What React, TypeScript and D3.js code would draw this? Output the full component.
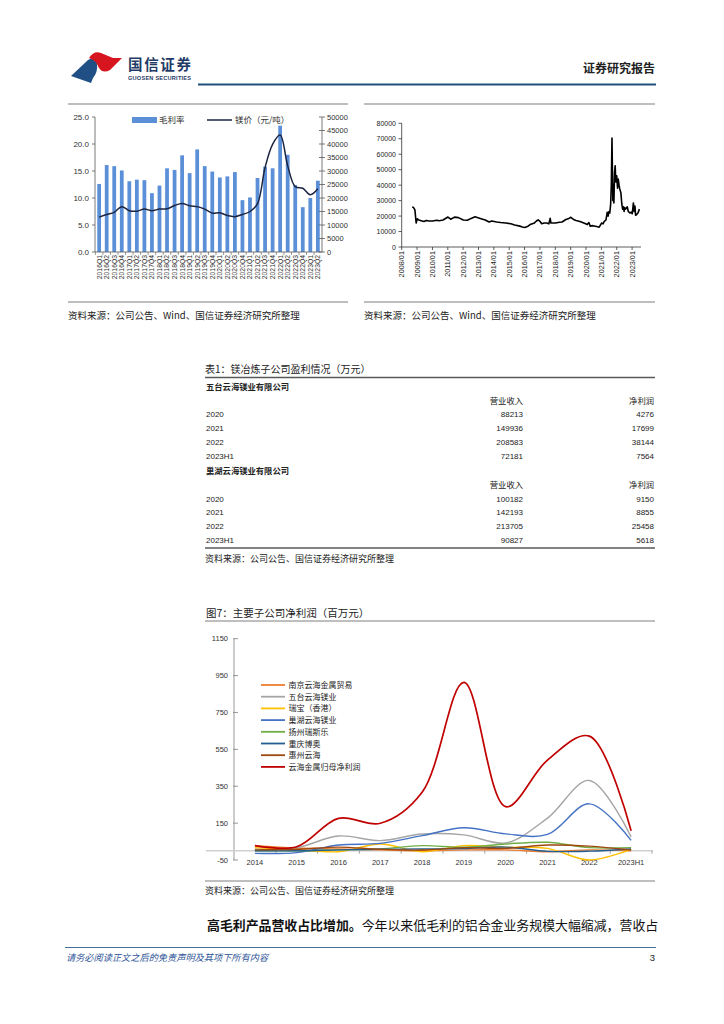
import * as d3 from 'd3';

const FONT = '"Liberation Sans", "Noto Sans CJK SC", sans-serif';
const CJK = '"Noto Sans CJK SC", "Liberation Sans", sans-serif';

// chart 1: quarterly gross margin vs magnesium price
const quarters = [
  '2016Q1', '2016Q2', '2016Q3', '2016Q4', '2017Q1', '2017Q2', '2017Q3', '2017Q4',
  '2018Q1', '2018Q2', '2018Q3', '2018Q4', '2019Q1', '2019Q2', '2019Q3', '2019Q4',
  '2020Q1', '2020Q2', '2020Q3', '2020Q4', '2021Q1', '2021Q2', '2021Q3', '2021Q4',
  '2022Q1', '2022Q2', '2022Q3', '2022Q4', '2023Q1', '2023Q2',
];
const grossMargin = [
  12.6, 16.1, 15.9, 15.1, 13.1, 13.4, 13.3, 10.9, 12.3, 15.5, 15.2, 17.9, 14.6, 19.0, 15.9,
  14.9, 13.8, 14.0, 14.8, 9.6, 10.1, 13.7, 15.8, 15.5, 23.4, 18.0, 12.4, 8.3, 10.0, 13.2,
];
const mgPriceQ = [
  12900, 13900, 14700, 16800, 15300, 15100, 15900, 15300, 15900, 16000, 17200, 18000, 17100,
  16800, 15900, 14400, 14500, 13500, 13100, 13900, 15000, 17900, 31300, 39900, 43300, 31900,
  24200, 23600, 21200, 23400,
];
const leftTicks = [0, 5, 10, 15, 20, 25];
const rightTicks = [0, 5000, 10000, 15000, 20000, 25000, 30000, 35000, 40000, 45000, 50000];

// chart 2: magnesium spot price
const mgDates = [
  '2008-09-10', '2008-10-10', '2008-11-10', '2008-12-10', '2009-01-05', '2009-02-10', '2009-04-10',
  '2009-06-10', '2009-08-10', '2009-10-10', '2010-01-05', '2010-04-10', '2010-06-10', '2010-09-10',
  '2011-01-05', '2011-03-10', '2011-06-10', '2011-09-10', '2012-01-05', '2012-04-10', '2012-07-10',
  '2012-10-10', '2013-01-05', '2013-04-10', '2013-06-10', '2013-09-10', '2013-11-10', '2014-03-10',
  '2014-06-10', '2014-10-10', '2015-02-10', '2015-05-10', '2015-09-10', '2015-11-10', '2016-01-05',
  '2016-03-10', '2016-05-10', '2016-08-10', '2016-10-10', '2016-11-20', '2017-01-05', '2017-02-10',
  '2017-04-10', '2017-06-10', '2017-08-01', '2017-09-01', '2017-09-20', '2018-01-05', '2018-04-10',
  '2018-06-10', '2018-09-10', '2018-11-20', '2019-01-05', '2019-03-10', '2019-05-10', '2019-08-10',
  '2019-11-10', '2020-02-01', '2020-03-10', '2020-04-10', '2020-06-10', '2020-09-10', '2020-11-10',
  '2021-01-05', '2021-02-10', '2021-03-10', '2021-04-20', '2021-05-20', '2021-06-10', '2021-07-01',
  '2021-07-20', '2021-08-10', '2021-08-25', '2021-09-10', '2021-09-20', '2021-10-01', '2021-10-15',
  '2021-10-25', '2021-11-10', '2021-11-25', '2021-12-10', '2022-01-01', '2022-01-20', '2022-02-05',
  '2022-02-25', '2022-03-10', '2022-04-10', '2022-05-01', '2022-05-20', '2022-06-10', '2022-06-25',
  '2022-07-10', '2022-08-01', '2022-09-10', '2022-10-01', '2022-11-10', '2022-12-10', '2023-01-05',
  '2023-02-01', '2023-02-20', '2023-03-10', '2023-03-25', '2023-04-20', '2023-05-20', '2023-06-25',
  '2023-07-20',
];
const mgDaily = [
  26000, 25500, 24000, 15500, 18200, 17500, 17000, 16500, 17200, 16800, 16800, 17300, 17000,
  17500, 19400, 18000, 19300, 19000, 17500, 17300, 18500, 19500, 18800, 18000, 17500, 16200,
  16800, 16200, 15800, 15500, 15000, 14200, 13500, 13000, 12600, 13200, 14500, 15300, 16800,
  17600, 16500, 15000, 15500, 15500, 15000, 18500, 15500, 15500, 16000, 16200, 17800, 18500,
  19200, 17800, 17200, 16500, 15500, 14500, 15800, 13500, 13800, 13200, 12800, 15500, 15000,
  16500, 17500, 22500, 20000, 23000, 22000, 28000, 40000, 70500, 50000, 30000, 40000, 28500,
  48000, 52500, 42000, 46000, 38000, 44000, 40000, 38000, 35000, 28000, 24500, 26000, 23000,
  25500, 24500, 26000, 23000, 22000, 22500, 21500, 28500, 23000, 26500, 20500, 21000, 22000,
  24500,
];
const mgTicks = [0, 10000, 20000, 30000, 40000, 50000, 60000, 70000, 80000];
const mgYears = d3.range(2008, 2024);

// table 1 (万元)
const wutaiRows: [string, number, number][] = [
  ['2020', 88213, 4276],
  ['2021', 149936, 17699],
  ['2022', 208583, 38144],
  ['2023H1', 72181, 7564],
];
const chaohuRows: [string, number, number][] = [
  ['2020', 100182, 9150],
  ['2021', 142193, 8855],
  ['2022', 213705, 25458],
  ['2023H1', 90827, 5618],
];

// chart 7: net profit of subsidiaries (百万元)
const years = ['2014', '2015', '2016', '2017', '2018', '2019', '2020', '2021', '2022', '2023H1'];
const nanjing = [28, 15, 10, 5, 0, 5, 5, -5, 5, 0];
const wutai = [10, 17, 80, 55, 91, 86, 42.8, 177, 381.4, 75.6];
const ruibao = [17, 5, -5, 37, -5, 28, 19, 13, -50, 8];
const chaohu = [-14, -10, 31, 40, 82, 125, 91.5, 88.6, 254.6, 56.2];
const yangzhou = [0, 0, 5, 10, 28, 19, 37, 46, 17, 17];
const chongqing = [0, 0, 5, 8, 10, 12, 20, -3, -2, 10];
const huizhou = [5, 8, 20, 8, 4, 17, 13, 31, 25, 4];
const yunhai = [28, 22, 176, 149, 317, 913, 239, 492, 622, 109];
const profitTicks = [-50, 150, 350, 550, 750, 950, 1150];

const profitSeries = [
  { name: '南京云海金属贸易', color: '#ed7d31', values: nanjing },
  { name: '五台云海镁业', color: '#a5a5a5', values: wutai },
  { name: '瑞宝（香港）', color: '#ffc000', values: ruibao },
  { name: '巢湖云海镁业', color: '#4472c4', values: chaohu },
  { name: '扬州瑞斯乐', color: '#70ad47', values: yangzhou },
  { name: '重庆博奥', color: '#255e91', values: chongqing },
  { name: '惠州云海', color: '#9e480e', values: huizhou },
  { name: '云海金属归母净利润', color: '#c00000', values: yunhai },
];

const source1 = '资料来源：公司公告、Wind、国信证券经济研究所整理';
const source2 = '资料来源：公司公告、国信证券经济研究所整理';

const GrossMarginChart = () => {
  const x = d3.scaleBand<string>().domain(quarters).range([95, 322]).paddingInner(0.5).paddingOuter(0.3);
  const yL = d3.scaleLinear().domain([0, 25]).range([252, 117]);
  const yR = d3.scaleLinear().domain([0, 50000]).range([252, 117]);
  const line = d3
    .line<number>()
    .x((_, i) => (x(quarters[i]) as number) + x.bandwidth() / 2)
    .y((d) => yR(d))
    .curve(d3.curveCatmullRom);
  const step = x.step();
  return (
    <g>
      <line x1={68} x2={348} y1={104} y2={104} stroke="#7f7f7f" strokeWidth={1.2} />
      {quarters.map((q, i) => (
        <rect key={q} x={x(q)} y={yL(grossMargin[i])} width={x.bandwidth()} height={252 - yL(grossMargin[i])} fill="#5b8fd8" />
      ))}
      <path d={line(mgPriceQ) as string} fill="none" stroke="#1c2541" strokeWidth={1.5} />
      {/* axes */}
      <line x1={95} x2={95} y1={117} y2={252} stroke="#595959" strokeWidth={0.8} />
      <line x1={322} x2={322} y1={117} y2={252} stroke="#595959" strokeWidth={0.8} />
      <line x1={95} x2={322} y1={252} y2={252} stroke="#595959" strokeWidth={0.8} />
      {leftTicks.map((t) => (
        <g key={t}>
          <line x1={92} x2={95} y1={yL(t)} y2={yL(t)} stroke="#595959" strokeWidth={0.8} />
          <text x={89} y={yL(t) + 2.8} textAnchor="end" fontSize={8} fill="#333" fontFamily={FONT}>
            {t.toFixed(1)}
          </text>
        </g>
      ))}
      {rightTicks.map((t) => (
        <g key={t}>
          <line x1={319} x2={325} y1={yR(t)} y2={yR(t)} stroke="#595959" strokeWidth={0.8} />
          <text x={327} y={yR(t) + 2.6} fontSize={7.5} fill="#333" fontFamily={FONT}>
            {t}
          </text>
        </g>
      ))}
      {quarters.map((q, i) => (
        <g key={q}>
          <line x1={95 + 0.3 * step + i * step - step * 0.25} x2={95 + 0.3 * step + i * step - step * 0.25} y1={252} y2={255} stroke="#595959" strokeWidth={0.6} />
          <text
            transform={`translate(${(x(q) as number) + x.bandwidth() / 2 + 2.4},255) rotate(-90)`}
            textAnchor="end"
            fontSize={6.8}
            fill="#333"
            fontFamily={FONT}
          >
            {q}
          </text>
        </g>
      ))}
      {/* legend */}
      <rect x={132} y={117} width={25} height={6} fill="#5b8fd8" />
      <text x={159} y={123} fontSize={8.5} fill="#333" fontFamily={CJK}>毛利率</text>
      <line x1={207} x2={232} y1={120} y2={120} stroke="#1c2541" strokeWidth={1.5} />
      <text x={235} y={123} fontSize={8.5} fill="#333" fontFamily={CJK}>镁价（元/吨）</text>
      <line x1={68} x2={348} y1={302} y2={302} stroke="#7f7f7f" strokeWidth={1.2} />
      <text x={68} y={319} fontSize={9.5} fill="#222" fontFamily={CJK}>{source1}</text>
    </g>
  );
};

const MgPriceChart = () => {
  const parse = d3.timeParse('%Y-%m-%d');
  const dates = mgDates.map((d) => parse(d) as Date);
  const x = d3.scaleTime().domain([new Date(2008, 0, 1), new Date(2023, 7, 1)]).range([401.7, 641]);
  const y = d3.scaleLinear().domain([0, 80000]).range([247, 123.3]);
  const line = d3
    .line<number>()
    .x((_, i) => x(dates[i]))
    .y((d) => y(d));
  return (
    <g>
      <line x1={364} x2={655} y1={104} y2={104} stroke="#7f7f7f" strokeWidth={1.2} />
      <line x1={401.7} x2={401.7} y1={123.3} y2={247} stroke="#333" strokeWidth={0.8} />
      <line x1={401.7} x2={641} y1={247} y2={247} stroke="#333" strokeWidth={0.8} />
      {mgTicks.map((t) => (
        <g key={t}>
          <line x1={398.5} x2={401.7} y1={y(t)} y2={y(t)} stroke="#333" strokeWidth={0.8} />
          <text x={396} y={y(t) + 2.5} textAnchor="end" fontSize={7} fill="#222" fontFamily={FONT}>
            {t}
          </text>
        </g>
      ))}
      {mgYears.map((yr) => {
        const px = x(new Date(yr, 0, 1));
        return (
          <g key={yr}>
            <line x1={px} x2={px} y1={247} y2={250} stroke="#333" strokeWidth={0.8} />
            <text transform={`translate(${px + 2.5},251) rotate(-90)`} textAnchor="end" fontSize={7.3} fill="#222" fontFamily={FONT}>
              {`${yr}/01`}
            </text>
          </g>
        );
      })}
      <path d={line(mgDaily) as string} fill="none" stroke="#000" strokeWidth={1.6} strokeLinejoin="round" />
      <line x1={364} x2={655} y1={302} y2={302} stroke="#7f7f7f" strokeWidth={1.2} />
      <text x={364} y={319} fontSize={9.5} fill="#222" fontFamily={CJK}>{source1}</text>
    </g>
  );
};

const ProfitTable = () => {
  const rowH = 13.8;
  const block = (name: string, rows: [string, number, number][], top: number) => (
    <g>
      <text x={206} y={top + 3} fontSize={8.3} fontWeight="bold" fill="#222" fontFamily={CJK}>{name}</text>
      <text x={523} y={top + rowH + 3.5} textAnchor="end" fontSize={8.3} fill="#222" fontFamily={CJK}>营业收入</text>
      <text x={654} y={top + rowH + 3.5} textAnchor="end" fontSize={8.3} fill="#222" fontFamily={CJK}>净利润</text>
      {rows.map((r, i) => {
        const yy = top + rowH * (i + 2) + 3;
        return (
          <g key={r[0]}>
            <text x={206} y={yy} fontSize={8} fill="#222" fontFamily={FONT}>{r[0]}</text>
            <text x={523} y={yy} textAnchor="end" fontSize={8} fill="#222" fontFamily={FONT}>{r[1]}</text>
            <text x={654} y={yy} textAnchor="end" fontSize={8} fill="#222" fontFamily={FONT}>{r[2]}</text>
          </g>
        );
      })}
    </g>
  );
  return (
    <g>
      <text x={205} y={373} fontSize={10} fill="#222" fontFamily={CJK}>表1：镁冶炼子公司盈利情况（万元）</text>
      <line x1={205} x2={655} y1={377.5} y2={377.5} stroke="#595959" strokeWidth={1.3} />
      {block('五台云海镁业有限公司', wutaiRows, 386.5)}
      {block('巢湖云海镁业有限公司', chaohuRows, 471)}
      <line x1={205} x2={655} y1={548} y2={548} stroke="#595959" strokeWidth={1.3} />
      <text x={205} y={561.5} fontSize={9} fill="#222" fontFamily={CJK}>{source2}</text>
    </g>
  );
};

const SubsidiaryChart = () => {
  const x = d3.scaleBand<string>().domain(years).range([234, 652]);
  const y = d3.scaleLinear().domain([-50, 1150]).range([860, 638.7]);
  const line = d3
    .line<number>()
    .x((_, i) => (x(years[i]) as number) + x.bandwidth() / 2)
    .y((d) => y(d))
    .curve(d3.curveCatmullRom);
  return (
    <g>
      <text x={206} y={616.5} fontSize={10.5} fill="#222" fontFamily={CJK}>图7：主要子公司净利润（百万元）</text>
      <line x1={205} x2={655} y1={621} y2={621} stroke="#7f7f7f" strokeWidth={1} />
      <line x1={234} x2={234} y1={638.7} y2={860} stroke="#7f7f7f" strokeWidth={0.8} />
      {profitTicks.map((t) => (
        <g key={t}>
          <line x1={233} x2={238} y1={y(t)} y2={y(t)} stroke="#7f7f7f" strokeWidth={0.8} />
          <text x={228} y={y(t) + 2.6} textAnchor="end" fontSize={7.5} fill="#333" fontFamily={FONT}>
            {t}
          </text>
        </g>
      ))}
      <line x1={206} x2={653} y1={y(0)} y2={y(0)} stroke="#d0d0d0" strokeWidth={1.6} />
      {years.map((yr, i) => (
        <g key={yr}>
          {i > 0 && <line x1={x(yr)} x2={x(yr)} y1={y(0)} y2={y(0) + 3} stroke="#7f7f7f" strokeWidth={0.7} />}
          <text x={(x(yr) as number) + x.bandwidth() / 2} y={864.5} textAnchor="middle" fontSize={7.5} fill="#333" fontFamily={FONT}>
            {yr}
          </text>
        </g>
      ))}
      <line x1={652} x2={652} y1={y(0)} y2={y(0) + 3} stroke="#7f7f7f" strokeWidth={0.7} />
      {profitSeries.map((s) => (
        <path
          key={s.name}
          d={line(s.values) as string}
          fill="none"
          stroke={s.color}
          strokeWidth={s.name === '云海金属归母净利润' ? 1.7 : 1.4}
        />
      ))}
      {profitSeries.map((s, i) => (
        <g key={s.name}>
          <line x1={261} x2={285} y1={685 + i * 11.7} y2={685 + i * 11.7} stroke={s.color} strokeWidth={1.8} />
          <text x={288.5} y={688 + i * 11.7} fontSize={8} fill="#222" fontFamily={CJK}>{s.name}</text>
        </g>
      ))}
      <line x1={205} x2={655} y1={881} y2={881} stroke="#7f7f7f" strokeWidth={1} />
      <text x={205} y={894} fontSize={9} fill="#222" fontFamily={CJK}>{source2}</text>
    </g>
  );
};

const Header = () => (
  <g>
    <path d="M71,76 L88,60 Q96,55 97,64 Q98,72 93,78 L91,83 Z" fill="#1f4f85" />
    <path d="M89,58 Q94,50 101,53 L113,58 L122,58 L110,70 Q103,74 99,68 Q96,60 89,58 Z" fill="#d7151f" />
    <text x={128} y={70} fontSize={14.5} fontWeight="bold" fill="#1f3b66" fontFamily={CJK} textLength={63}>国信证券</text>
    <text x={128} y={80} fontSize={5.6} fontWeight="bold" fill="#1f3b66" fontFamily={FONT} textLength={63}>GUOSEN SECURITIES</text>
    <text x={655} y={73} textAnchor="end" fontSize={12} fontWeight="bold" fill="#222" fontFamily={CJK}>证券研究报告</text>
    <line x1={198} x2={656} y1={84.5} y2={84.5} stroke="#1f4e79" strokeWidth={2} />
  </g>
);

const Footer = () => (
  <g>
    <text x={207} y={930} fontSize={12.9} fill="#111" fontFamily={CJK}>
      <tspan fontWeight="bold">高毛利产品营收占比增加。</tspan>
      <tspan>今年以来低毛利的铝合金业务规模大幅缩减，营收占</tspan>
    </text>
    <line x1={65} x2={656} y1={947.5} y2={947.5} stroke="#4a6f95" strokeWidth={1} />
    <text x={66} y={960.5} fontSize={9.2} fontStyle="italic" fill="#2f5597" fontFamily={CJK}>请务必阅读正文之后的免责声明及其项下所有内容</text>
    <text x={655} y={961} textAnchor="end" fontSize={9.5} fill="#222" fontFamily={FONT}>3</text>
  </g>
);

export default function App() {
  return (
    <svg width={724} height={1024} style={{ position: 'absolute', left: 0, top: 0, background: '#fff' }}>
      <rect width={724} height={1024} fill="#fff" />
      <Header />
      <GrossMarginChart />
      <MgPriceChart />
      <ProfitTable />
      <SubsidiaryChart />
      <Footer />
    </svg>
  );
}
